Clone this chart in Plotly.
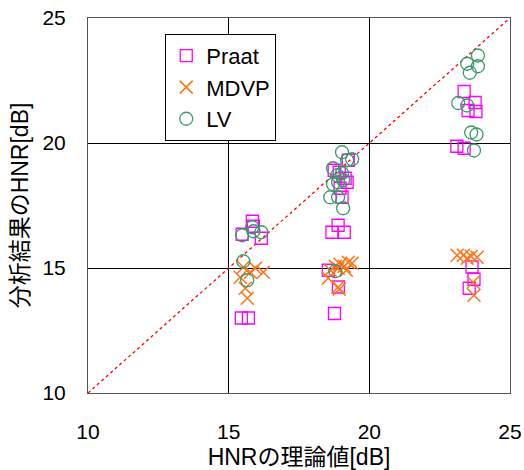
import plotly.graph_objects as go

# Praat
praat_x = [15.48, 15.84, 15.88, 16.16, 15.45, 15.70,
           18.75, 18.93, 19.25, 19.14, 19.21, 18.96, 19.03,
           18.89, 18.67, 19.11, 18.54, 18.90, 18.76,
           23.37, 23.76, 23.51, 23.79, 23.11, 23.37, 23.65, 23.72, 23.55]
praat_y = [16.35, 16.87, 16.67, 16.19, 13.00, 13.00,
           18.91, 18.83, 19.31, 18.59, 18.43, 18.19, 17.83,
           16.71, 16.43, 16.43, 14.91, 14.24, 13.18,
           22.06, 21.62, 21.30, 21.26, 19.87, 19.79, 15.04, 14.55, 14.19]

# MDVP
mdvp_x = [15.52, 15.77, 15.95, 16.23, 15.41, 15.59, 15.66,
          18.61, 18.79, 18.96, 19.11, 19.25, 19.39, 18.89, 19.18, 18.54, 18.89, 18.93,
          23.12, 23.34, 23.62, 23.83, 23.48, 23.69, 23.72]
mdvp_y = [15.03, 14.83, 14.99, 14.83, 14.63, 14.19, 13.79,
          14.91, 15.07, 15.15, 15.07, 15.23, 15.19, 14.99, 14.91, 14.59, 14.24, 14.15,
          15.51, 15.51, 15.47, 15.43, 15.39, 14.43, 13.91]

# LV
lv_x = [15.48, 15.84, 15.88, 16.16, 15.52, 15.66,
        19.03, 19.21, 19.39, 18.71, 18.86, 19.03, 18.89, 19.07, 18.71, 18.61, 18.89, 19.07, 18.79,
        23.86, 23.48, 23.86, 23.57, 23.16, 23.48, 23.62, 23.81, 23.72]
lv_y = [16.31, 16.63, 16.47, 16.43, 15.27, 14.51,
        19.63, 19.31, 19.35, 18.99, 18.71, 18.79, 18.43, 18.51, 18.35, 17.83, 17.83, 17.39, 14.87,
        23.50, 23.17, 23.07, 22.81, 21.60, 21.50, 20.42, 20.34, 19.70]

diag = [10, 25]

font_family = "Liberation Sans, Arial, Noto Sans CJK JP"

fig = go.Figure()
fig.add_trace(go.Scatter(x=diag, y=diag, mode="lines",
                         line=dict(color="#ff0000", width=1.3, dash="3px,3px"),
                         showlegend=False, hoverinfo="skip"))
fig.add_trace(go.Scatter(x=praat_x, y=praat_y, mode="markers", name="Praat",
                         marker=dict(symbol="square-open", size=12,
                                     color="#ff00ff", line=dict(width=1.3, color="#ff00ff"))))
fig.add_trace(go.Scatter(x=mdvp_x, y=mdvp_y, mode="markers", name="MDVP",
                         marker=dict(symbol="x-thin-open", size=13,
                                     color="#ff7316", line=dict(width=1.5, color="#ff7316"))))
fig.add_trace(go.Scatter(x=lv_x, y=lv_y, mode="markers", name="LV",
                         marker=dict(symbol="circle-open", size=13,
                                     color="#3a9a6a", line=dict(width=1.3, color="#3a9a6a"))))

axis_common = dict(
    showgrid=True, gridcolor="#000000", gridwidth=1,
    zeroline=False, showline=True, linecolor="#555555", linewidth=1, mirror=True,
    ticks="", tickfont=dict(size=21, color="#000000", family=font_family),
    tickmode="array", tickvals=[10, 15, 20, 25], automargin=False,
)

fig.update_layout(
    width=524, height=470,
    margin=dict(l=87.5, r=14, t=17.5, b=77),
    paper_bgcolor="white", plot_bgcolor="white",
    font=dict(family=font_family, color="#000000"),
    xaxis=dict(range=[10, 25], title=dict(text="HNRの理論値[dB]", font=dict(size=23), standoff=11),
               ticklabelstandoff=20, **axis_common),
    yaxis=dict(range=[10, 25], title=dict(text="分析結果のHNR[dB]", font=dict(size=23), standoff=7),
               ticklabelstandoff=17, **axis_common),
    legend=dict(x=0.183, y=0.958, xanchor="left", yanchor="top",
                bordercolor="#000000", borderwidth=1, bgcolor="white",
                font=dict(size=22, family=font_family), itemwidth=30),
    showlegend=True,
)

fig.write_html("out.html")
